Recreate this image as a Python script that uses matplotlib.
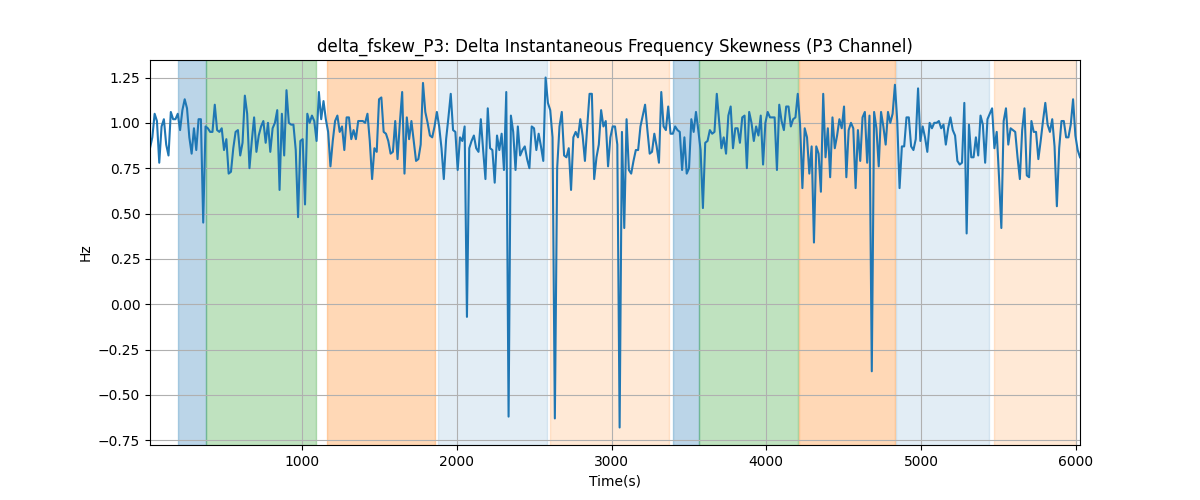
import numpy as np
import matplotlib
matplotlib.use("Agg")
import matplotlib.pyplot as plt

# skewness samples, read left to right off the trace
skew = [
    0.86, 0.92, 1.05, 1.01, 0.78, 0.98, 1.02, 0.88, 0.82, 1.06, 1.02, 1.02, 1.05, 0.96, 1.07, 1.13,
    1.08, 0.92, 0.83, 0.97, 0.85, 1.02, 1.02, 0.45, 0.98, 0.97, 0.95, 0.95, 1.10, 0.96, 0.95, 0.97,
    0.85, 0.91, 0.72, 0.73, 0.86, 0.95, 0.96, 0.82, 0.89, 1.15, 1.05, 0.75, 0.90, 1.03, 0.84, 0.93,
    0.98, 1.01, 0.89, 1.00, 0.84, 0.97, 1.00, 1.07, 0.63, 1.05, 0.82, 1.18, 1.00, 0.99, 0.99, 0.85,
    0.48, 0.90, 0.91, 0.55, 1.05,
    1.00, 1.04, 1.01, 0.90, 1.17, 1.02, 1.12, 1.02, 0.95, 0.76, 0.90, 1.01, 1.04, 0.95, 0.98, 0.85,
    1.03, 1.03, 0.91, 0.96, 0.91, 1.01, 1.01, 1.01, 1.00, 1.05, 0.90, 0.69, 0.86, 0.84, 1.13,
    1.14, 0.95, 0.94, 0.90, 0.83, 0.84, 1.01, 0.80, 1.00, 1.17, 0.72, 1.03, 0.91, 1.01, 0.90, 0.79,
    0.80, 0.88, 1.22, 1.06, 1.00, 0.93, 0.92, 0.98, 1.06, 0.98, 0.86, 0.69, 0.91, 1.03, 1.16, 0.96,
    0.95, 0.74, 0.92, 0.90, 0.98, -0.07,
    0.86, 0.90, 0.93, 0.86, 0.84, 1.02, 0.85, 0.69, 1.08, 0.86, 0.85, 0.67, 0.93, 0.85, 0.94,
    0.74, 1.17, -0.62, 1.04, 0.95, 0.74, 0.98, 0.82, 0.85, 0.87, 0.80, 0.75, 0.98, 0.97, 0.85, 0.94,
    0.87, 0.79, 1.25, 1.11, 1.07, 0.92, -0.63, 0.75, 0.98, 1.06, 0.82, 0.81, 0.86, 0.63, 0.92, 0.95,
    0.92, 1.02, 0.93, 0.79, 0.98, 1.16, 1.16, 0.69, 0.81, 0.88, 1.07, 0.98, 1.01, 0.76, 0.92, 0.98,
    0.98, 0.88, -0.68,
    0.95, 0.42, 1.02, 0.74, 0.72, 0.79, 0.85, 0.85, 0.98, 1.04, 1.10, 0.96, 0.83, 0.84, 0.94, 0.87,
    0.78, 1.17, 0.98, 0.96, 1.09, 0.94, 0.94, 0.98, 0.96, 0.95, 0.74, 0.92, 0.72, 0.75, 1.02, 0.95,
    1.06, 0.96, 0.85, 0.53, 0.89, 0.90, 0.96, 0.94, 0.95, 1.16, 1.01, 0.86, 0.92, 0.83, 1.04, 1.09,
    0.86, 0.97, 0.97, 0.89, 1.03, 1.04, 0.75, 1.06, 1.00, 0.90, 0.98, 0.93, 1.04, 0.77, 1.00, 1.06,
    1.03, 1.03, 1.03, 0.74, 1.10,
    1.01, 0.96, 1.09, 1.09, 0.98, 1.02, 1.03, 1.16, 0.99, 0.64, 0.97, 0.92, 0.72, 0.87, 0.34, 0.87,
    0.83, 0.62, 1.16, 0.81, 0.97, 0.70, 1.03, 0.86, 0.93, 1.02, 0.97, 1.09, 0.70, 0.96, 1.00, 0.97,
    0.64, 0.96, 0.79, 1.03, 1.06, 0.78, 1.04, -0.37, 1.06, 0.97, 0.76, 1.06, 0.98, 0.88, 1.06, 1.00,
    1.05, 1.21, 1.01, 0.64, 0.87, 0.87, 1.03, 1.03, 0.87, 0.85, 0.91, 1.19, 0.90, 0.98, 0.92, 0.84,
    1.00, 0.97, 1.00,
    1.00, 1.01, 0.97, 0.99, 0.88, 0.97, 1.03, 0.96, 0.93, 0.79, 0.77, 0.78, 1.11, 0.39, 0.99, 0.81,
    0.81, 0.92, 0.82, 1.04, 0.99, 0.78, 1.02, 1.05, 1.08, 0.86, 0.95, 0.70, 0.42, 1.01, 1.08, 0.88,
    0.97, 0.96, 0.95, 0.81, 0.69, 0.96, 1.08, 0.71, 0.70, 1.01, 0.95, 0.95, 0.80, 0.90, 1.01, 1.11,
    0.99, 0.95, 1.02, 0.87, 0.54, 0.86, 1.01, 1.01, 0.92, 0.92, 0.99, 1.13, 0.93, 0.85, 0.81,
]
t_start, t_end = 16, 6028

# stage intervals (s) and their shading
span_start = [200, 380, 1160, 1875, 2600, 3400, 3565, 4210, 4840, 5470]
span_end = [380, 1090, 1860, 2585, 3370, 3565, 4205, 4830, 5440, 6005]
span_color = ["tab:blue", "tab:green", "tab:orange", "tab:blue", "tab:orange"] * 2
span_alpha = [0.3, 0.3, 0.3, 0.13, 0.17] * 2

t = np.linspace(t_start, t_end, len(skew))

fig, ax = plt.subplots(figsize=(12, 5), dpi=100)
for a, b, c, al in zip(span_start, span_end, span_color, span_alpha):
    ax.axvspan(a, b, color=c, alpha=al)
ax.plot(t, skew, color="tab:blue")
ax.set_xlim(t[0], t[-1])
ax.set_title("delta_fskew_P3: Delta Instantaneous Frequency Skewness (P3 Channel)")
ax.set_xlabel("Time(s)")
ax.set_ylabel("Hz")
ax.grid(True)
fig.savefig("out.png")
